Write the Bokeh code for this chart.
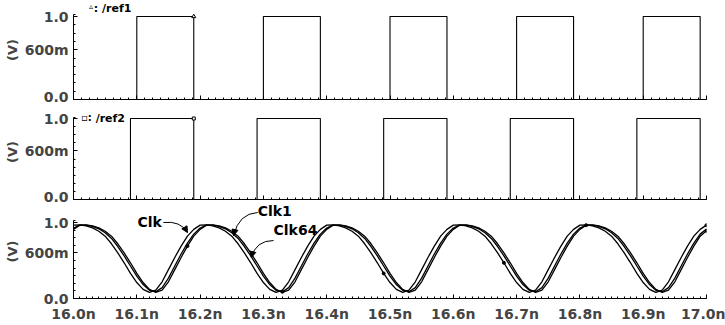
import numpy as np
from bokeh.plotting import figure
from bokeh.models import Range1d, FixedTicker, Label, Arrow, NormalHead
from bokeh.layouts import column
from bokeh.embed import file_html
from bokeh.resources import INLINE

# ---- data -------------------------------------------------------------
# sample times of the transient waveforms (ns)
t_ns = np.round(np.linspace(16.0, 17.0, 101), 2)

# sine-like clock waveforms (V)
clk = [
    0.965, 0.968, 0.955, 0.930, 0.885, 0.820, 0.720, 0.600, 0.470, 0.330,
    0.210, 0.120, 0.080, 0.110, 0.220, 0.380, 0.540, 0.690, 0.820, 0.910,
    0.965, 0.968, 0.955, 0.930, 0.885, 0.820, 0.720, 0.600, 0.470, 0.330,
    0.210, 0.120, 0.080, 0.110, 0.220, 0.380, 0.540, 0.690, 0.820, 0.910,
    0.965, 0.968, 0.955, 0.930, 0.885, 0.820, 0.720, 0.600, 0.470, 0.330,
    0.210, 0.120, 0.080, 0.110, 0.220, 0.380, 0.540, 0.690, 0.820, 0.910,
    0.965, 0.968, 0.955, 0.930, 0.885, 0.820, 0.720, 0.600, 0.470, 0.330,
    0.210, 0.120, 0.080, 0.110, 0.220, 0.380, 0.540, 0.690, 0.820, 0.910,
    0.965, 0.968, 0.955, 0.930, 0.885, 0.820, 0.720, 0.600, 0.470, 0.330,
    0.210, 0.120, 0.080, 0.110, 0.220, 0.380, 0.540, 0.690, 0.820, 0.910,
    0.965,
]
clk1 = [
    0.927, 0.966, 0.964, 0.948, 0.917, 0.866, 0.790, 0.684, 0.561, 0.428,
    0.294, 0.183, 0.108, 0.089, 0.143, 0.268, 0.428, 0.585, 0.729, 0.847,
    0.927, 0.966, 0.964, 0.948, 0.917, 0.866, 0.790, 0.684, 0.561, 0.428,
    0.294, 0.183, 0.108, 0.089, 0.143, 0.268, 0.428, 0.585, 0.729, 0.847,
    0.927, 0.966, 0.964, 0.948, 0.917, 0.866, 0.790, 0.684, 0.561, 0.428,
    0.294, 0.183, 0.108, 0.089, 0.143, 0.268, 0.428, 0.585, 0.729, 0.847,
    0.927, 0.966, 0.964, 0.948, 0.917, 0.866, 0.790, 0.684, 0.561, 0.428,
    0.294, 0.183, 0.108, 0.089, 0.143, 0.268, 0.428, 0.585, 0.729, 0.847,
    0.927, 0.966, 0.964, 0.948, 0.917, 0.866, 0.790, 0.684, 0.561, 0.428,
    0.294, 0.183, 0.108, 0.089, 0.143, 0.268, 0.428, 0.585, 0.729, 0.847,
    0.915,
]
clk64 = [
    0.910, 0.965, 0.968, 0.955, 0.930, 0.885, 0.820, 0.720, 0.600, 0.470,
    0.330, 0.210, 0.120, 0.080, 0.110, 0.220, 0.380, 0.540, 0.690, 0.820,
    0.910, 0.965, 0.968, 0.955, 0.930, 0.885, 0.820, 0.720, 0.600, 0.470,
    0.330, 0.210, 0.120, 0.080, 0.110, 0.220, 0.380, 0.540, 0.690, 0.820,
    0.910, 0.965, 0.968, 0.955, 0.930, 0.885, 0.820, 0.720, 0.600, 0.470,
    0.330, 0.210, 0.120, 0.080, 0.110, 0.220, 0.380, 0.540, 0.690, 0.820,
    0.910, 0.965, 0.968, 0.955, 0.930, 0.885, 0.820, 0.720, 0.600, 0.470,
    0.330, 0.210, 0.120, 0.080, 0.110, 0.220, 0.380, 0.540, 0.690, 0.820,
    0.910, 0.965, 0.968, 0.955, 0.930, 0.885, 0.820, 0.720, 0.600, 0.470,
    0.330, 0.210, 0.120, 0.080, 0.110, 0.220, 0.380, 0.540, 0.690, 0.820,
    0.890,
]

# reference square waves: edge times (ns) and levels (V)
ref1_rise = [16.10, 16.30, 16.50, 16.70, 16.90]
ref1_fall = [16.19, 16.39, 16.59, 16.79, 16.99]
ref2_rise = [16.09, 16.29, 16.49, 16.69, 16.89]
ref2_fall = [16.19, 16.39, 16.59, 16.79, 16.99]
ref_low, ref_high = 0.0, 1.0

# axis ticks
x_ticks = [16.0, 16.1, 16.2, 16.3, 16.4, 16.5, 16.6, 16.7, 16.8, 16.9, 17.0]
x_tick_labels = ["16.0n", "16.1n", "16.2n", "16.3n", "16.4n", "16.5n",
                 "16.6n", "16.7n", "16.8n", "16.9n", "17.0n"]
y_ticks = [0.0, 0.6, 1.0]
y_tick_labels = ["0.0", "600m", "1.0"]

FONT = "DejaVu Sans"


def step_path(rises, falls, lo, hi, t0=16.0, t1=17.0):
    xs, ys = [t0], [lo]
    for r, f in zip(rises, falls):
        xs += [r, r, f, f]
        ys += [lo, hi, hi, lo]
    xs.append(t1)
    ys.append(lo)
    return xs, ys


def panel(frame_h, bottom, y_top, axis_top, labels_x, x_minor_step):
    p = figure(width=725, height=frame_h + bottom,
               x_range=Range1d(16.0, 17.0), y_range=Range1d(0.0, y_top),
               output_backend="svg", toolbar_location=None,
               min_border=0, min_border_left=73, min_border_right=19,
               min_border_top=0, min_border_bottom=bottom)
    p.outline_line_color = None
    p.grid.visible = False
    p.background_fill_color = "white"
    p.border_fill_color = "white"

    # left axis
    ya = p.yaxis[0]
    ya.bounds = (0.0, axis_top)
    ya.ticker = FixedTicker(ticks=y_ticks,
                            minor_ticks=[0.1, 0.2, 0.3, 0.4, 0.5, 0.7, 0.8, 0.9, axis_top])
    ya.major_label_overrides = dict(zip(y_ticks, y_tick_labels))
    ya.axis_label = "(V)"
    ya.axis_label_text_font = FONT
    ya.axis_label_text_font_style = "bold"
    ya.axis_label_text_font_size = "13px"
    ya.axis_label_standoff = 2
    ya.major_label_text_font = FONT
    ya.major_label_text_font_style = "bold"
    ya.major_label_text_font_size = "14px"
    ya.major_label_standoff = 5
    ya.major_tick_in, ya.major_tick_out = 4, 0
    ya.minor_tick_in, ya.minor_tick_out = 2, 0
    ya.axis_line_color = "black"

    # bottom axis
    xa = p.xaxis[0]
    minors = [round(v, 4) for v in np.arange(16.0, 17.0 + 1e-9, x_minor_step)]
    xa.ticker = FixedTicker(ticks=x_ticks, minor_ticks=minors)
    xa.major_tick_in, xa.major_tick_out = 4, 0
    xa.minor_tick_in, xa.minor_tick_out = 2, 0
    xa.axis_line_color = "black"
    if labels_x:
        xa.major_label_overrides = dict(zip(x_ticks, x_tick_labels))
        xa.major_label_text_font = FONT
        xa.major_label_text_font_style = "bold"
        xa.major_label_text_font_size = "14px"
        xa.major_label_standoff = 7
    else:
        # unlabelled time axis: tick marks only
        xa.major_label_overrides = {t: "" for t in x_ticks}
        xa.major_label_text_font_size = "1px"
        xa.major_label_standoff = 0
    return p


def bold_label(p, x, y, text, size="14px", align="left", font=FONT):
    p.add_layout(Label(x=x, y=y, text=text, text_font=font,
                       text_font_style="bold", text_font_size=size,
                       text_align=align, text_baseline="middle",
                       text_color="black"))


# ---- panel 1: /ref1 ---------------------------------------------------
p1 = panel(99, 5, 99 / 83, 1.024, False, 0.0125)
x1, y1 = step_path(ref1_rise, ref1_fall, ref_low, ref_high)
p1.line(x1, y1, line_color="black", line_width=1.1)
p1.scatter([x1[3]], [y1[3]], marker="triangle", size=4,
           line_color="black", fill_color="white")
bold_label(p1, 16.0245, 1.12, "\u25b5", size="8px", font="DejaVu Sans")
bold_label(p1, 16.032, 1.096, ": /ref1", size="11px")

# ---- panel 2: /ref2 ---------------------------------------------------
p2 = panel(95, 5, 95 / 81, 1.012, False, 0.0125)
x2, y2 = step_path(ref2_rise, ref2_fall, ref_low, ref_high)
p2.line(x2, y2, line_color="black", line_width=1.1)
p2.scatter([x2[3]], [y2[3]], marker="square", size=3,
           line_color="black", fill_color="white")
bold_label(p2, 16.012, 1.01, "\u25ab:", size="10px", font="DejaVu Sans")
bold_label(p2, 16.035, 1.006, "/ref2", size="11px")

# ---- panel 3: clocks --------------------------------------------------
p3 = panel(94, 27, 94 / 76, 1.026, True, 0.01)
for series in (clk, clk1, clk64):
    p3.line(t_ns, series, line_color="black", line_width=1.3)

marks = [(clk, [49, 68, 100]), (clk1, [33]), (clk64, [18, 81, 100])]
for series, idx in marks:
    p3.scatter([t_ns[i] for i in idx], [series[i] for i in idx],
               marker="circle", size=3, color="black")

bold_label(p3, 16.101, 1.013, "Clk")
bold_label(p3, 16.291, 1.145, "Clk1")
bold_label(p3, 16.316, 0.895, "Clk64")

# curved leader lines with arrow heads
leaders = [
    # x0, y0, x1, y1, cx, cy
    (16.142, 1.000, 16.180, 0.868, 16.169, 1.026),
    (16.291, 1.132, 16.253, 0.829, 16.261, 1.118),
    (16.316, 0.763, 16.281, 0.539, 16.288, 0.763),
]
for x0, y0, xe, ye, cx, cy in leaders:
    p3.quadratic(x0=[x0], y0=[y0], x1=[xe], y1=[ye], cx=[cx], cy=[cy],
                 line_color="black", line_width=1)
    dx, dy = xe - cx, ye - cy
    p3.add_layout(Arrow(end=NormalHead(size=6, fill_color="black",
                                       line_color="black"),
                        x_start=xe - 0.25 * dx, y_start=ye - 0.25 * dy,
                        x_end=xe, y_end=ye, line_width=1, line_color="black"))

layout = column(p1, p2, p3, spacing=0)
open("out.html", "w").write(file_html(layout, INLINE))
